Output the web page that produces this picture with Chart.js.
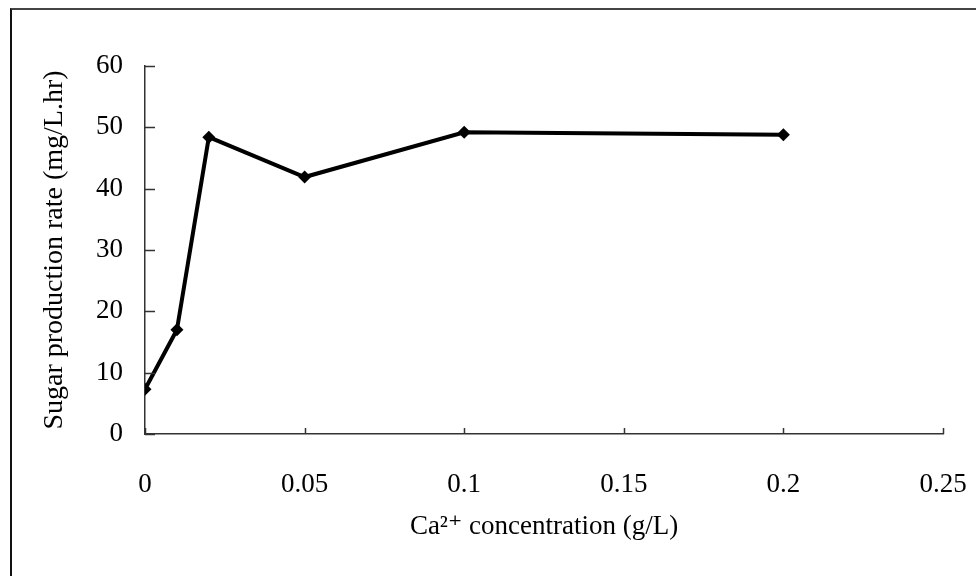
<!DOCTYPE html>
<html>
<head>
<meta charset="utf-8">
<script src="https://cdn.jsdelivr.net/npm/chart.js@4/dist/chart.umd.min.js"></script>
<style>
  body { margin: 0; background: #fff; }
  #wrap { position: relative; width: 976px; height: 576px; }
  /* 外框：只有上边和左边 */
  #frame { position: absolute; left: 10px; top: 8px; width: 980px; height: 600px;
           border-left: 2px solid #111; border-top: 2px solid #444; }
  #chart { position: absolute; left: 0; top: 0; }
</style>
</head>
<body>
<div id="wrap">
  <div id="frame"></div>
  <canvas id="chart" width="976" height="576"></canvas>
</div>
<script>
// 数据
const concentrations = [0, 0.01, 0.02, 0.05, 0.1, 0.2];
const sugarRates = [7.3, 17.0, 48.4, 41.9, 49.2, 48.8];
const xTicks = [0, 0.05, 0.1, 0.15, 0.2, 0.25];
const yTicks = [0, 10, 20, 30, 40, 50, 60];
const xTitle = 'Ca²⁺ concentration (g/L)';
const yTitle = 'Sugar production rate (mg/L.hr)';

const serif = '"Liberation Serif", "DejaVu Serif", serif';

// 刻度线画在坐标轴内侧
const innerTicks = {
    id: 'innerTicks',
    afterDraw(chart) {
        const ctx = chart.ctx;
        const area = chart.chartArea;
        const xs = chart.scales.x, ys = chart.scales.y;
        ctx.save();
        ctx.strokeStyle = '#333';
        ctx.lineWidth = 1.5;
        ctx.beginPath();
        yTicks.forEach(v => {
            const py = Math.round(ys.getPixelForValue(v)) + 0.5;
            ctx.moveTo(area.left, py);
            ctx.lineTo(area.left + 10, py);
        });
        xTicks.forEach(v => {
            const px = Math.round(xs.getPixelForValue(v)) + 0.5;
            ctx.moveTo(px, area.bottom);
            ctx.lineTo(px, area.bottom - 6);
        });
        ctx.stroke();
        ctx.restore();
    }
};

const ctx = document.getElementById('chart').getContext('2d');
new Chart(ctx, {
    type: 'line',
    data: {
        datasets: [{
            data: concentrations.map((c, i) => ({ x: c, y: sugarRates[i] })),
            borderColor: '#000',
            backgroundColor: '#000',
            borderWidth: 4,
            pointStyle: 'rectRot',
            pointRadius: 6.5,
            pointBorderWidth: 0,
            tension: 0
        }]
    },
    options: {
        responsive: false,
        animation: false,
        layout: { padding: { left: 0, top: 66, right: 33, bottom: 0 } },
        plugins: { legend: { display: false }, tooltip: { enabled: false } },
        scales: {
            x: {
                type: 'linear',
                min: 0,
                max: 0.25,
                afterBuildTicks: s => { s.ticks = xTicks.map(v => ({ value: v })); },
                afterFit: s => { s.height = 142; s.paddingLeft = 0; s.paddingRight = 0; },
                grid: { display: false, drawTicks: false },
                border: { display: true, color: '#333', width: 1.5 },
                ticks: {
                    color: '#000',
                    padding: 35,
                    maxRotation: 0,
                    font: { family: serif, size: 27 },
                    callback: v => String(v)
                },
                title: {
                    display: true,
                    text: xTitle,
                    color: '#000',
                    font: { family: serif, size: 27 },
                    padding: { top: 0, bottom: 33 }
                }
            },
            y: {
                min: 0,
                max: 60,
                afterBuildTicks: s => { s.ticks = yTicks.map(v => ({ value: v })); },
                afterFit: s => { s.width = 145; s.paddingTop = 0; s.paddingBottom = 0; },
                grid: { display: false, drawTicks: false },
                border: { display: true, color: '#333', width: 1.5 },
                ticks: {
                    color: '#000',
                    padding: 22,
                    font: { family: serif, size: 27 }
                },
                title: {
                    display: true,
                    text: yTitle,
                    color: '#000',
                    font: { family: serif, size: 28 },
                    padding: { top: 38, bottom: 0 }
                }
            }
        }
    },
    plugins: [innerTicks]
});
</script>
</body>
</html>
